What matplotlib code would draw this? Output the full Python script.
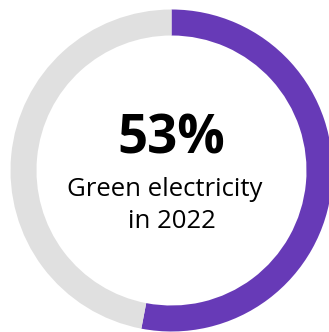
import matplotlib
matplotlib.use("Agg")
import matplotlib.pyplot as plt

# Share of green electricity
labels = ["Green electricity", "Other"]
values = [53, 47]
colors = ["#673AB7", "#E0E0E0"]
headline = "53%"
caption_1 = "Green electricity"
caption_2 = "in 2022"

W, H = 329, 332
fig = plt.figure(figsize=(W / 100, H / 100), dpi=100)
ax = fig.add_axes([0, 0, 1, 1])
ax.set_xlim(0, W)
ax.set_ylim(0, H)
ax.set_aspect("equal")
ax.axis("off")

cx, cy = 171.5, H - 170.5
ax.pie(values, colors=colors, startangle=90, counterclock=False,
       radius=161, center=(cx, cy),
       wedgeprops=dict(width=26, linewidth=0))
ax.set_xlim(0, W)
ax.set_ylim(0, H)

ax.text(171, H - 140, headline, ha="center", va="center",
        fontsize=38, fontweight="bold", family="Open Sans", color="black")
ax.text(165, H - 189, caption_1, ha="center", va="center",
        fontsize=18.5, family="Open Sans", color="black")
ax.text(171.5, H - 221, caption_2, ha="center", va="center",
        fontsize=18.5, family="Open Sans", color="black")

fig.savefig("out.png", dpi=100)
